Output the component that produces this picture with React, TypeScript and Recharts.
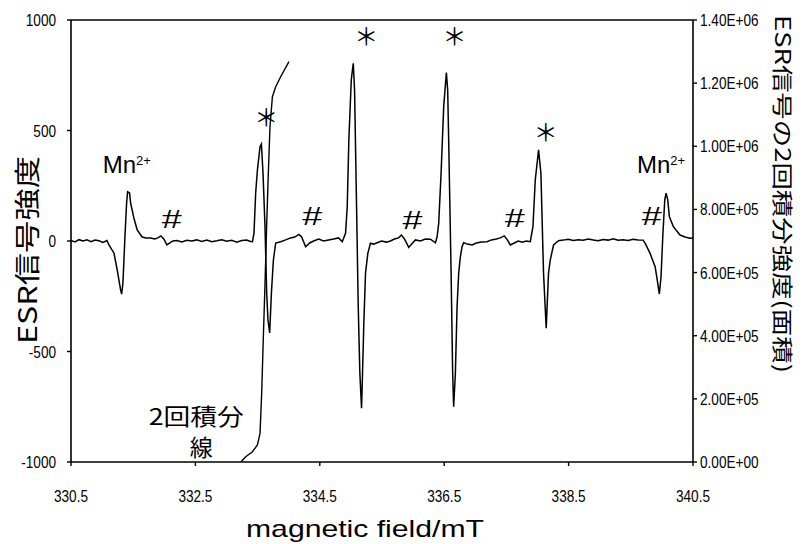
import { Line, LineChart, ReferenceDot, ReferenceLine, XAxis, YAxis } from 'recharts'

// ESR first-derivative spectrum: [magnetic field (mT), signal]
const esrTrace: [number, number][] = [
  [330.5, 3], [330.564, -4], [330.628, 6], [330.693, 0], [330.757, 5], [330.821, -3],
  [330.885, 4], [330.949, 1], [331.014, -6], [331.078, 2],
  [331.11, -18], [331.19, -54], [331.243, -131], [331.298, -222], [331.314, -240],
  [331.335, -190], [331.367, 18], [331.394, 172], [331.41, 223], [331.442, 217],
  [331.458, 172], [331.511, 104], [331.564, 50], [331.644, 18], [331.704, 14],
  [331.779, 14], [331.848, 9],
  [331.896, 14], [331.945, 23], [331.993, 9], [332.041, -18], [332.089, -9], [332.137, 0],
  [332.201, 2], [332.282, -4], [332.362, 3], [332.442, 0], [332.522, 5], [332.603, -2],
  [332.683, 4], [332.763, -3], [332.843, 1], [332.924, 6], [333.004, -1], [333.084, 3],
  [333.165, -5], [333.245, 2], [333.325, 4], [333.389, -2], [333.417, -3],
  [333.442, 36], [333.469, 217], [333.497, 321], [333.539, 427], [333.561, 439],
  [333.587, 308], [333.619, 65], [333.646, -235], [333.667, -357], [333.694, -416],
  [333.722, -235], [333.754, -86], [333.791, -9], [333.871, -3], [333.951, 5],
  [334.031, 14], [334.096, 18], [334.165, 30], [334.208, 18], [334.272, -26],
  [334.336, -9], [334.4, 0], [334.481, 9], [334.561, 0], [334.641, 5], [334.721, 9],
  [334.802, 14], [334.861, -3],
  [334.914, 35], [334.941, 155], [334.967, 457], [335.006, 729], [335.038, 804],
  [335.059, 683], [335.091, 155], [335.118, -297], [335.144, -597], [335.171, -757],
  [335.187, -597], [335.208, -371], [335.235, -146], [335.272, -56], [335.315, -10],
  [335.364, -14], [335.423, -8], [335.492, 0], [335.572, -5], [335.636, 0], [335.701, 9],
  [335.765, 14], [335.813, 27], [335.861, 9], [335.93, -29], [335.99, -9], [336.038, 5],
  [336.118, 0], [336.198, 9], [336.278, 8], [336.359, -8],
  [336.386, 19], [336.412, 81], [336.45, 308], [336.492, 608], [336.535, 762],
  [336.556, 683], [336.572, 457], [336.611, -145], [336.636, -597], [336.652, -750],
  [336.68, -597], [336.707, -297], [336.733, -146], [336.76, -71], [336.787, -26],
  [336.813, -8], [336.872, -14], [336.948, -18], [337.017, -9], [337.097, -5],
  [337.189, -3], [337.258, 5], [337.338, 9], [337.402, 14], [337.466, 23], [337.515, 5],
  [337.563, -18], [337.627, -9], [337.691, 0], [337.756, -5], [337.82, 0], [337.884, -3],
  [337.927, 65], [337.964, 276], [338.017, 412], [338.055, 306], [338.097, -146],
  [338.14, -395], [338.177, -146], [338.205, -86], [338.258, -18], [338.338, 1],
  [338.413, 4], [338.494, 8], [338.574, 2], [338.654, 6], [338.734, 3], [338.815, 9],
  [338.895, 5], [338.975, 1], [339.055, 7], [339.136, 4], [339.216, 10], [339.296, 3],
  [339.376, 6], [339.457, 2], [339.537, 8], [339.617, 5], [339.697, 4],
  [339.73, -10], [339.81, -56], [339.891, -116], [339.933, -191], [339.959, -240],
  [339.986, -162], [340.014, 19], [340.046, 186], [340.067, 216], [340.094, 186],
  [340.12, 110], [340.184, 65], [340.291, 27], [340.371, 18], [340.452, 12], [340.5, 14],
]

// Double integral of the spectrum (right axis): [magnetic field (mT), area]
const integralTrace: [number, number][] = [
  [333.229, 0], [333.309, 16800], [333.417, 32600], [333.497, 53800], [333.539, 90900],
  [333.55, 143500], [333.566, 220000], [333.59, 380000], [333.62, 570000],
  [333.645, 745000], [333.67, 900000], [333.699, 1062000], [333.738, 1157000],
  [333.791, 1188700], [333.871, 1220400], [334.004, 1267900],
]

const FIELD_TICKS = [330.5, 332.5, 334.5, 336.5, 338.5, 340.5]
const SIGNAL_TICKS = [-1000, -500, 0, 500, 1000]
const AREA_TICKS = [0, 200000, 400000, 600000, 800000, 1000000, 1200000, 1400000]

// annotation anchors in data units (field, signal)
const MN_MARKS: [number, number][] = [[331.01, 308], [339.6, 308]]
const STAR_MARKS: [number, number][] = [[333.638, 568], [335.246, 934], [336.664, 934], [338.132, 500]]
const HASH_MARKS: [number, number][] = [[332.121, 100], [334.38, 113], [335.99, 97], [337.635, 104], [339.837, 113]]

const esrData = esrTrace.map(([field, signal]) => ({ field, signal }))
const integralData = integralTrace.map(([field, area]) => ({ field, area }))

const INK = '#000'
const TICK_FONT = 'Liberation Sans, Arial, sans-serif'
const CJK_FONT = '"Noto Sans CJK JP", sans-serif'

// 1.4e6 -> "1.40E+06"
const sciLabel = (v: number) => {
  const [m, e] = v.toExponential(2).split('e')
  return `${m}E${e[0]}${e.slice(1).padStart(2, '0')}`
}

const tickText = (x: number, y: number, label: string, anchor: 'start' | 'middle' | 'end', dx: number, dy: number) => (
  <g transform={`translate(${x + dx},${y + dy})`}>
    <text transform="scale(0.85,1)" textAnchor={anchor} fontFamily={TICK_FONT} fontSize={16} fill={INK}>
      {label}
    </text>
  </g>
)

const FieldTick = (p: any) => tickText(p.x, p.y, String(p.payload.value), 'middle', 0, 34)
const SignalTick = (p: any) => tickText(p.x, p.y, String(p.payload.value), 'end', -9, 6)
const AreaTick = (p: any) => tickText(p.x, p.y, sciLabel(p.payload.value), 'start', 1, 6)

const starShape = (p: any) => (
  <text x={p.cx} y={p.cy} textAnchor="middle" dominantBaseline="central" fontFamily={CJK_FONT} fontSize={24} fill={INK}>
    ＊
  </text>
)

// the # marks are drawn wide and thin in the source figure
const hashShape = (p: any) => (
  <text
    x={p.cx}
    y={p.cy + 9}
    textAnchor="middle"
    fontFamily={TICK_FONT}
    fontSize={25}
    fill={INK}
    textLength={20}
    lengthAdjust="spacingAndGlyphs"
  >
    #
  </text>
)

const mnShape = (p: any) => (
  <text x={p.cx} y={p.cy} fontFamily={TICK_FONT} fontSize={24} fill={INK}>
    Mn
    <tspan fontSize={13} dy={-8}>2+</tspan>
  </text>
)

const integralLabel = (p: any) => (
  <text x={p.cx} y={p.cy - 2} textAnchor="middle" fontFamily={CJK_FONT} fontSize={23} fill={INK} textLength={95} lengthAdjust="spacingAndGlyphs">
    2回積分
  </text>
)

const integralLabel2 = (p: any) => (
  <text x={p.cx} y={p.cy + 1} textAnchor="middle" fontFamily={CJK_FONT} fontSize={23} fill={INK}>
    線
  </text>
)

const xTitle = () => (
  <text x={365} y={537} textAnchor="middle" fontFamily={TICK_FONT} fontSize={24} fill={INK} textLength={238} lengthAdjust="spacingAndGlyphs">
    magnetic field/mT
  </text>
)

const leftTitle = () => (
  <text
    transform="translate(25,250) rotate(-90)"
    textAnchor="middle"
    dominantBaseline="central"
    fontFamily={CJK_FONT}
    fontSize={26}
    fill={INK}
    textLength={188}
    lengthAdjust="spacingAndGlyphs"
  >
    ESR信号強度
  </text>
)

const rightTitle = () => (
  <text
    transform="translate(784,194) rotate(90)"
    textAnchor="middle"
    dominantBaseline="central"
    fontFamily={CJK_FONT}
    fontSize={21}
    fill={INK}
    textLength={358}
    lengthAdjust="spacingAndGlyphs"
  >
    ESR信号の2回積分強度(面積)
  </text>
)

const axisLine = { stroke: INK, strokeWidth: 1.6 }
const tickLine = { stroke: INK, strokeWidth: 1.4 }

export default function App() {
  return (
    <div style={{ position: 'fixed', left: 0, top: 0, width: 804, height: 544, background: '#fff' }}>
      <LineChart width={804} height={544} margin={{ top: 20, right: 0, bottom: 0, left: 0 }}>
        <XAxis
          dataKey="field"
          type="number"
          domain={[330.5, 340.5]}
          ticks={FIELD_TICKS}
          allowDataOverflow
          height={82}
          tickSize={4}
          axisLine={axisLine}
          tickLine={tickLine}
          tick={FieldTick}
          label={{ content: xTitle }}
        />
        <YAxis
          yAxisId="left"
          type="number"
          domain={[-1000, 1000]}
          ticks={SIGNAL_TICKS}
          allowDataOverflow
          width={71}
          tickSize={4}
          axisLine={axisLine}
          tickLine={tickLine}
          tick={SignalTick}
          label={{ content: leftTitle }}
        />
        <YAxis
          yAxisId="right"
          orientation="right"
          type="number"
          domain={[0, 1400000]}
          ticks={AREA_TICKS}
          allowDataOverflow
          width={111}
          tickSize={4}
          axisLine={axisLine}
          tickLine={tickLine}
          tick={AreaTick}
          label={{ content: rightTitle }}
        />
        <ReferenceLine yAxisId="left" y={1000} stroke={INK} strokeWidth={1.6} />
        <Line
          data={integralData}
          yAxisId="right"
          dataKey="area"
          type="linear"
          stroke={INK}
          strokeWidth={1.4}
          dot={false}
          isAnimationActive={false}
        />
        <Line
          data={esrData}
          yAxisId="left"
          dataKey="signal"
          type="linear"
          stroke={INK}
          strokeWidth={1.5}
          dot={false}
          isAnimationActive={false}
        />
        {MN_MARKS.map(([f, s]) => (
          <ReferenceDot key={`mn${f}`} yAxisId="left" x={f} y={s} r={0} shape={mnShape} />
        ))}
        {STAR_MARKS.map(([f, s]) => (
          <ReferenceDot key={`st${f}`} yAxisId="left" x={f} y={s} r={0} shape={starShape} />
        ))}
        {HASH_MARKS.map(([f, s]) => (
          <ReferenceDot key={`h${f}`} yAxisId="left" x={f} y={s} r={0} shape={hashShape} />
        ))}
        <ReferenceDot yAxisId="left" x={332.514} y={-842} r={0} shape={integralLabel} />
        <ReferenceDot yAxisId="left" x={332.595} y={-968} r={0} shape={integralLabel2} />
      </LineChart>
    </div>
  )
}
